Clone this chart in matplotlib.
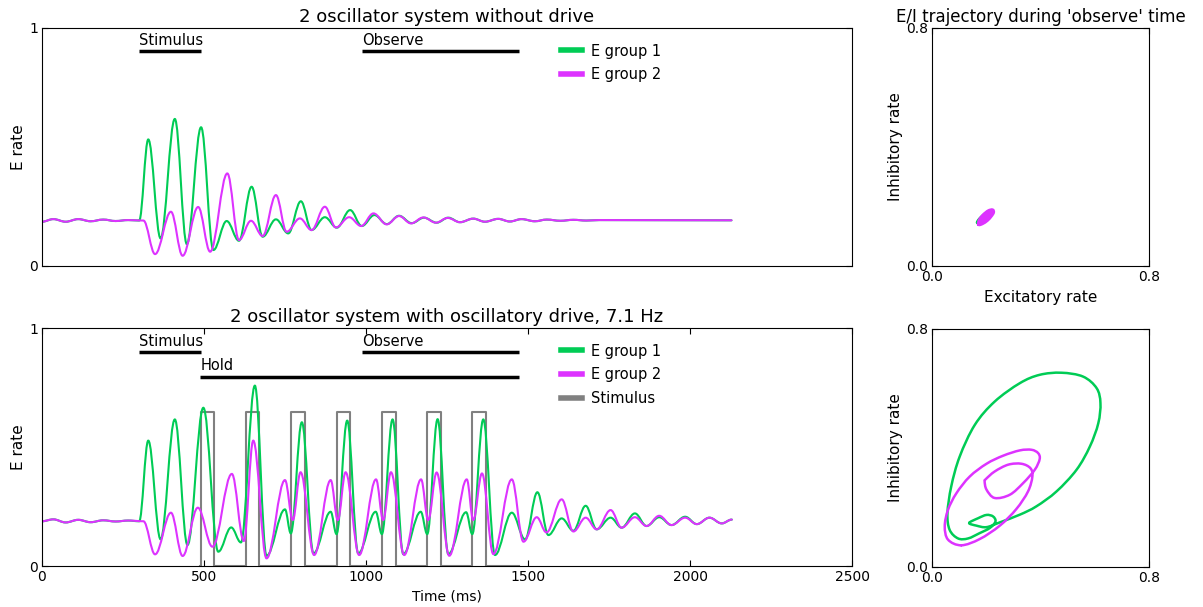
import numpy as np
import matplotlib
matplotlib.use('Agg')
import matplotlib.pyplot as plt
from matplotlib.path import Path
from matplotlib.patches import PathPatch
from matplotlib.lines import Line2D

GREEN = '#00cc55'
MAGENTA = '#dd33ff'
GRAY = '#808080'

# ---------------- data ----------------
# top panel: turning points of E rate, group 1 and group 2 (time ms, rate)
top_g_t = [0, 35, 73, 112, 150, 189, 227, 266, 300, 328, 366, 410, 447, 491, 529, 570, 608,
           647, 681, 722, 760, 799, 832, 873, 910, 951, 987, 1026, 1064, 1102, 1141, 1179,
           1218, 1254, 1290, 1331, 1367, 1408, 1444, 1480, 1521, 1558, 1600, 1640, 1680, 1720, 2128]
top_g_v = [0.186, 0.197, 0.186, 0.197, 0.188, 0.195, 0.189, 0.193, 0.191, 0.532, 0.116, 0.618,
           0.092, 0.583, 0.067, 0.189, 0.106, 0.333, 0.123, 0.196, 0.137, 0.272, 0.151, 0.205,
           0.161, 0.235, 0.168, 0.214, 0.176, 0.211, 0.180, 0.203, 0.182, 0.203, 0.184, 0.199,
           0.186, 0.198, 0.187, 0.197, 0.188, 0.195, 0.190, 0.194, 0.191, 0.193, 0.192]
top_m_t = [0, 35, 73, 112, 150, 189, 227, 266, 313, 349, 398, 434, 482, 519, 572, 608, 645,
           681, 722, 755, 796, 832, 873, 907, 948, 985, 1023, 1064, 1102, 1139, 1177, 1216,
           1252, 1290, 1331, 1367, 1408, 1444, 1480, 1521, 1558, 1600, 1640, 1680, 1720, 2128]
top_m_v = [0.186, 0.197, 0.186, 0.197, 0.188, 0.195, 0.189, 0.193, 0.191, 0.050, 0.228, 0.043,
           0.248, 0.060, 0.389, 0.109, 0.190, 0.126, 0.298, 0.144, 0.200, 0.151, 0.249, 0.162,
           0.205, 0.168, 0.221, 0.175, 0.210, 0.179, 0.204, 0.182, 0.202, 0.184, 0.199, 0.186,
           0.198, 0.187, 0.197, 0.188, 0.195, 0.190, 0.194, 0.191, 0.193, 0.192]

# bottom panel (with drive)
bot_g_t = [0, 35, 73, 112, 150, 189, 227, 266, 300, 328, 366, 410, 449, 498, 544, 584, 614,
           657, 693, 750, 768, 802, 838, 891, 909, 942, 976, 1030, 1049, 1082, 1115, 1169,
           1189, 1221, 1254, 1309, 1328, 1362, 1398, 1450, 1491, 1529, 1563, 1604, 1640, 1678,
           1712, 1755, 1789, 1830, 1866, 1905, 1943, 1985, 2021, 2060, 2098, 2129]
bot_g_v = [0.188, 0.196, 0.183, 0.194, 0.184, 0.192, 0.187, 0.191, 0.188, 0.527, 0.112, 0.616,
           0.088, 0.665, 0.060, 0.162, 0.099, 0.758, 0.043, 0.238, 0.137, 0.604, 0.053, 0.228,
           0.134, 0.611, 0.053, 0.228, 0.134, 0.616, 0.050, 0.228, 0.134, 0.617, 0.050, 0.226,
           0.134, 0.616, 0.046, 0.224, 0.112, 0.310, 0.130, 0.200, 0.148, 0.253, 0.154, 0.203,
           0.161, 0.221, 0.168, 0.205, 0.172, 0.207, 0.176, 0.203, 0.179, 0.195]
bot_m_t = [0, 35, 73, 112, 150, 189, 227, 266, 313, 349, 398, 434, 481, 526, 586, 623, 652,
           693, 750, 774, 798, 840, 891, 913, 937, 979, 1031, 1053, 1077, 1118, 1170, 1192,
           1218, 1257, 1311, 1331, 1358, 1393, 1450, 1486, 1527, 1557, 1604, 1640, 1678, 1712,
           1755, 1789, 1830, 1866, 1905, 1943, 1985, 2021, 2060, 2098, 2129]
bot_m_v = [0.188, 0.196, 0.183, 0.194, 0.184, 0.192, 0.187, 0.191, 0.188, 0.049, 0.224, 0.042,
           0.245, 0.081, 0.387, 0.105, 0.527, 0.032, 0.361, 0.193, 0.394, 0.046, 0.361, 0.193,
           0.394, 0.046, 0.364, 0.193, 0.394, 0.046, 0.364, 0.193, 0.393, 0.043, 0.364, 0.193,
           0.389, 0.050, 0.364, 0.102, 0.205, 0.141, 0.280, 0.145, 0.203, 0.154, 0.235, 0.161,
           0.205, 0.168, 0.211, 0.172, 0.203, 0.176, 0.203, 0.179, 0.195]

# drive pulses (ms) and their height
stim_on = [490, 629, 770, 910, 1049, 1188, 1328]
stim_off = [530, 671, 812, 952, 1092, 1231, 1371]
stim_height = 0.646

# protocol windows (ms)
stimulus_win = (300, 491)
observe_win = (989, 1472)
hold_win = (489, 1472)

# phase-plane trajectories during 'observe' (E rate, I rate)
ph_top_g_E = [0.168, 0.182, 0.200, 0.215, 0.222, 0.221, 0.208, 0.190, 0.175, 0.168]
ph_top_g_I = [0.146, 0.146, 0.157, 0.170, 0.180, 0.186, 0.182, 0.170, 0.157, 0.146]
ph_top_m_E = [0.172, 0.186, 0.204, 0.218, 0.226, 0.223, 0.208, 0.190, 0.176, 0.172]
ph_top_m_I = [0.140, 0.143, 0.154, 0.168, 0.180, 0.188, 0.185, 0.172, 0.156, 0.140]
ph_top_m2_E = [0.182, 0.196, 0.210, 0.216, 0.208, 0.194, 0.184, 0.182]
ph_top_m2_I = [0.152, 0.158, 0.170, 0.178, 0.177, 0.167, 0.157, 0.152]

ph_bot_g_E = [0.137, 0.164, 0.201, 0.250, 0.324, 0.385, 0.459, 0.533, 0.582, 0.613, 0.621,
              0.607, 0.557, 0.477, 0.397, 0.324, 0.231, 0.158, 0.102, 0.071, 0.057, 0.065,
              0.096, 0.133, 0.176, 0.213, 0.234, 0.225, 0.201, 0.170, 0.137]
ph_bot_g_I = [0.148, 0.139, 0.134, 0.150, 0.176, 0.204, 0.254, 0.327, 0.405, 0.483, 0.551,
              0.601, 0.640, 0.653, 0.646, 0.618, 0.556, 0.478, 0.371, 0.271, 0.181, 0.125,
              0.096, 0.096, 0.114, 0.131, 0.153, 0.170, 0.175, 0.164, 0.148]
ph_bot_m_E = [0.108, 0.176, 0.250, 0.311, 0.354, 0.370, 0.363, 0.330, 0.281, 0.231, 0.198,
              0.194, 0.201, 0.231, 0.287, 0.336, 0.379, 0.397, 0.391, 0.367, 0.324, 0.262,
              0.201, 0.139, 0.090, 0.059, 0.047, 0.059, 0.108]
ph_bot_m_I = [0.073, 0.094, 0.139, 0.195, 0.254, 0.304, 0.332, 0.347, 0.344, 0.321, 0.295,
              0.288, 0.260, 0.232, 0.243, 0.282, 0.327, 0.363, 0.383, 0.394, 0.392, 0.374,
              0.347, 0.304, 0.248, 0.192, 0.137, 0.092, 0.073]


# ---------------- helpers ----------------
def turning_point_path(t, v, k=0.37):
    """Smooth Bezier path through turning points (flat tangent at each point)."""
    verts = [(t[0], v[0])]
    codes = [Path.MOVETO]
    for i in range(len(t) - 1):
        dt = t[i + 1] - t[i]
        verts += [(t[i] + k * dt, v[i]), (t[i + 1] - k * dt, v[i + 1]), (t[i + 1], v[i + 1])]
        codes += [Path.CURVE4] * 3
    return Path(verts, codes)


def closed_smooth_path(x, y):
    pts = np.column_stack([x, y])[:-1]
    n = len(pts)
    verts = [tuple(pts[0])]
    codes = [Path.MOVETO]
    for i in range(n):
        p0, p1, p2, p3 = pts[(i - 1) % n], pts[i], pts[(i + 1) % n], pts[(i + 2) % n]
        c1 = p1 + (p2 - p0) / 6.0
        c2 = p2 - (p3 - p1) / 6.0
        verts += [tuple(c1), tuple(c2), tuple(p2)]
        codes += [Path.CURVE4] * 3
    return Path(verts, codes)


def add_curve(ax, path, color, lw=1.5, z=2):
    ax.add_patch(PathPatch(path, facecolor='none', edgecolor=color, lw=lw, zorder=z,
                           capstyle='round', joinstyle='round'))


W, H = 1203, 607
fig = plt.figure(figsize=(W / 100, H / 100), dpi=100)
plt.rcParams['font.family'] = ['DejaVu Sans']

ax1 = fig.add_axes([42 / W, (H - 266) / H, 810 / W, 238 / H])
ax2 = fig.add_axes([42 / W, (H - 566) / H, 810 / W, 238 / H])
ax3 = fig.add_axes([932 / W, (H - 266) / H, 217 / W, 238 / H])
ax4 = fig.add_axes([932 / W, (H - 567) / H, 217 / W, 238 / H])

for ax in (ax1, ax2):
    ax.set_xlim(0, 2500)
    ax.set_ylim(0, 1)
    ax.set_yticks([0, 1])
    ax.set_yticklabels(['0', '1'])
    ax.tick_params(direction='in', top=True, right=True, length=4, labelsize=10, pad=3)
    ax.set_ylabel('E rate', fontsize=11, labelpad=2)

ax1.set_xticks([])
ax2.set_xticks([0, 500, 1000, 1500, 2000, 2500])
ax2.set_xlabel('Time (ms)', fontsize=10)

# curves
add_curve(ax1, turning_point_path(top_g_t, top_g_v), GREEN)
add_curve(ax1, turning_point_path(top_m_t, top_m_v), MAGENTA, z=2.1)
add_curve(ax2, turning_point_path(bot_g_t, bot_g_v), GREEN)
add_curve(ax2, turning_point_path(bot_m_t, bot_m_v), MAGENTA, z=2.1)

# stimulus pulses
sx, sy = [hold_win[0]], [0.0]
for a, b in zip(stim_on, stim_off):
    sx += [a, a, b, b]
    sy += [0.0, stim_height, stim_height, 0.0]
sx.append(hold_win[1])
sy.append(0.0)
ax2.plot(sx, sy, color=GRAY, lw=1.5, zorder=1.9)

# protocol bars
def bar(ax, win, y, label):
    ax.plot(list(win), [y, y], color='k', lw=2.5, solid_capstyle='butt')
    ax.text(win[0], y + 0.015, label, fontsize=10.5, ha='left', va='bottom')

bar(ax1, stimulus_win, 0.903, 'Stimulus')
bar(ax1, observe_win, 0.903, 'Observe')
bar(ax2, stimulus_win, 0.898, 'Stimulus')
bar(ax2, observe_win, 0.898, 'Observe')
bar(ax2, hold_win, 0.795, 'Hold')

h_g = Line2D([], [], color=GREEN, lw=4)
h_m = Line2D([], [], color=MAGENTA, lw=4)
h_s = Line2D([], [], color=GRAY, lw=4)
ax1.legend([h_g, h_m], ['E group 1', 'E group 2'], loc='upper left',
           bbox_to_anchor=(0.625, 0.99), frameon=False, fontsize=10.5,
           handlelength=1.4, handletextpad=0.6, labelspacing=0.6)
ax2.legend([h_g, h_m, h_s], ['E group 1', 'E group 2', 'Stimulus'], loc='upper left',
           bbox_to_anchor=(0.625, 0.99), frameon=False, fontsize=10.5,
           handlelength=1.4, handletextpad=0.6, labelspacing=0.6)

ax1.set_title('2 oscillator system without drive', fontsize=13, pad=4)
ax2.set_title('2 oscillator system with oscillatory drive, 7.1 Hz', fontsize=13, pad=4)

# phase planes
for ax in (ax3, ax4):
    ax.set_xlim(0, 0.8)
    ax.set_ylim(0, 0.8)
    ax.set_xticks([0, 0.8])
    ax.set_yticks([0, 0.8])
    ax.set_xticklabels(['0.0', '0.8'])
    ax.set_yticklabels(['0.0', '0.8'])
    ax.tick_params(direction='in', top=True, right=True, length=4, labelsize=10, pad=3)
    ax.set_ylabel('Inhibitory rate', fontsize=11, labelpad=2)
ax3.set_xlabel('Excitatory rate', fontsize=11)
ax3.set_title("E/I trajectory during 'observe' time", fontsize=12, pad=4)

add_curve(ax3, closed_smooth_path(ph_top_g_E, ph_top_g_I), GREEN, lw=2.5)
add_curve(ax3, closed_smooth_path(ph_top_m_E, ph_top_m_I), MAGENTA, lw=2.5, z=2.1)
add_curve(ax3, closed_smooth_path(ph_top_m2_E, ph_top_m2_I), MAGENTA, lw=3, z=2.2)
add_curve(ax4, closed_smooth_path(ph_bot_g_E, ph_bot_g_I), GREEN, lw=1.8)
add_curve(ax4, closed_smooth_path(ph_bot_m_E, ph_bot_m_I), MAGENTA, lw=1.8, z=2.1)

fig.savefig('out.png', dpi=100)
